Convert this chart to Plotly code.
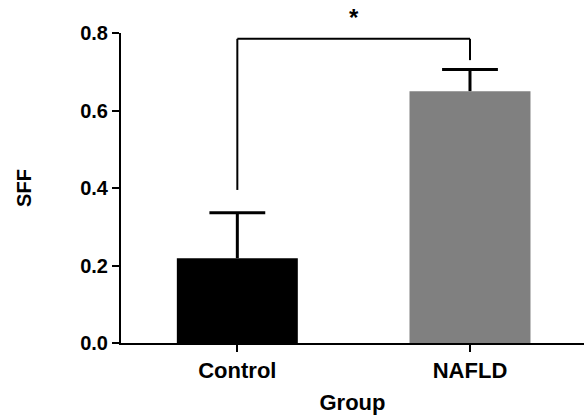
import plotly.graph_objects as go

categories = ["Control", "NAFLD"]
means = [0.219, 0.650]
sem = [0.117, 0.056]
bar_colors = ["#000000", "#808080"]
y_ticks = [0.0, 0.2, 0.4, 0.6, 0.8]
y_tick_labels = ["0.0", "0.2", "0.4", "0.6", "0.8"]
bracket_y = 0.785
bracket_left_bottom = 0.395
bracket_right_bottom = 0.73
sig_label = "*"

FONT = "Liberation Sans, Arial, sans-serif"
x_pos = list(range(len(categories)))
cap_half = 0.12

fig = go.Figure()
fig.add_trace(go.Bar(
    x=x_pos, y=means,
    marker=dict(color=bar_colors, line=dict(width=0)),
    width=0.52,
    showlegend=False,
))

# upward-only error bars (stem + cap)
ex, ey = [], []
for xi, m, s in zip(x_pos, means, sem):
    ex += [xi, xi, None, xi - cap_half, xi + cap_half, None]
    ey += [m, m + s, None, m + s, m + s, None]
fig.add_trace(go.Scatter(x=ex, y=ey, mode="lines",
                         line=dict(color="#000000", width=3),
                         showlegend=False, hoverinfo="skip", cliponaxis=False))

line = dict(color="#000000", width=2)
fig.add_shape(type="line", xref="x", yref="y", x0=0, x1=0,
              y0=bracket_left_bottom, y1=bracket_y, line=line)
fig.add_shape(type="line", xref="x", yref="y", x0=0, x1=1,
              y0=bracket_y, y1=bracket_y, line=line)
fig.add_shape(type="line", xref="x", yref="y", x0=1, x1=1,
              y0=bracket_right_bottom, y1=bracket_y, line=line)
fig.add_annotation(x=0.5, y=bracket_y, xref="x", yref="y", text="<b>%s</b>" % sig_label,
                   showarrow=False, yanchor="bottom", yshift=6,
                   font=dict(family=FONT, size=24, color="#000000"))

fig.update_layout(
    width=584, height=417,
    margin=dict(l=121, r=0, t=33, b=74),
    plot_bgcolor="white", paper_bgcolor="white",
    font=dict(family=FONT, size=20, color="#000000"),
    xaxis=dict(
        range=[-0.5, 1.49],
        tickmode="array", tickvals=x_pos, ticktext=["<b>%s</b>" % c for c in categories],
        showline=True, linecolor="#000000", linewidth=2,
        ticks="outside", ticklen=7, tickwidth=2, tickcolor="#000000",
        showgrid=False, zeroline=False,
        title=dict(text="<b>Group</b>", standoff=12, font=dict(size=22)),
        tickfont=dict(size=22),
    ),
    yaxis=dict(
        range=[0, 0.8],
        tickmode="array", tickvals=y_ticks, ticktext=["<b>%s</b>" % t for t in y_tick_labels],
        showline=True, linecolor="#000000", linewidth=2,
        ticks="outside", ticklen=7, tickwidth=2, tickcolor="#000000",
        showgrid=False, zeroline=False,
        title=dict(text="<b>SFF</b>", standoff=43, font=dict(size=20)),
        tickfont=dict(size=20),
    ),
)

fig.write_html("out.html", config={"displayModeBar": False},
               post_script="document.body.style.margin='0px';document.body.style.overflow='hidden';")
